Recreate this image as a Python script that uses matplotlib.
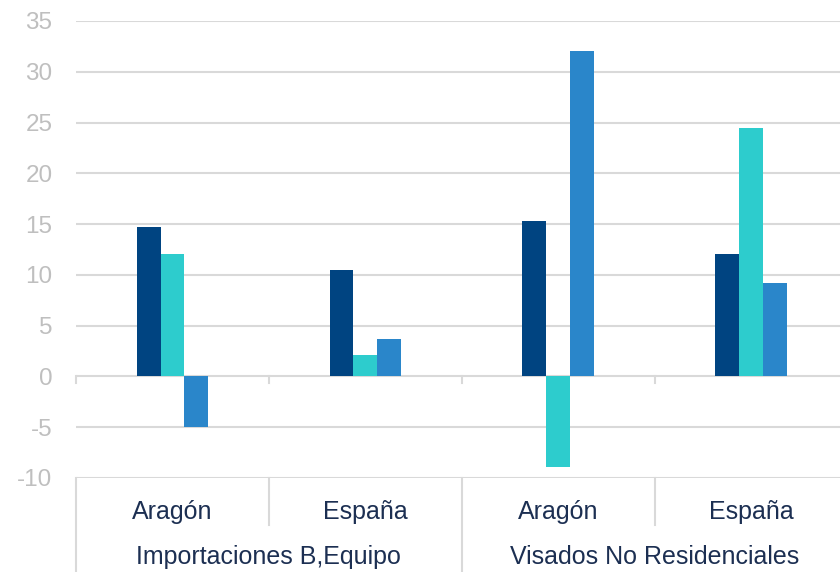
import matplotlib
matplotlib.use("Agg")
import matplotlib.pyplot as plt
import numpy as np

plt.rcParams['font.family'] = ['Liberation Sans', 'DejaVu Sans']

subcats = ["Aragón", "España", "Aragón", "España"]
groups = ["Importaciones B,Equipo", "Visados No Residenciales"]
series_a = [14.7, 10.5, 15.3, 12.1]
series_b = [12.1, 2.1, -8.9, 24.5]
series_c = [-5.0, 3.7, 32.0, 9.2]
yticks = [-10, -5, 0, 5, 10, 15, 20, 25, 30, 35]

colors = ["#004481", "#2DCCCD", "#2A86CA"]
grid_c = "#D9D9D9"
text_c = "#1C2F52"
tick_c = "#BFBFBF"

W, H = 840, 572
fig = plt.figure(figsize=(W / 100, H / 100), dpi=100)
ax = fig.add_axes([76 / W, 1 - 478 / H, (W - 76) / W, (478 - 21) / H])

x = np.arange(len(subcats))
bw = 0.124
for i, (vals, c) in enumerate(zip([series_a, series_b, series_c], colors)):
    ax.bar(x + (i - 1) * bw, vals, width=bw, color=c, zorder=3, linewidth=0)

ax.set_ylim(-10, 35)
ax.set_xlim(-0.5, 3.46)
ax.set_yticks(yticks)
ax.set_yticklabels([str(v) for v in yticks], fontsize=17.5, color=tick_c)
ax.tick_params(axis='y', length=0, pad=17)
ax.set_xticks([])
for v in yticks:
    ax.axhline(v, color=grid_c, lw=1.5, zorder=1)
for s in ax.spines.values():
    s.set_visible(False)

trans = ax.get_xaxis_transform()
# small ticks on the zero line
for b in [-0.5, 0.5, 1.5, 2.5]:
    ax.plot([b, b], [0, -0.6], color=grid_c, lw=1.5, zorder=2, clip_on=False)

def ypix(py):
    return (478 - py) / (478 - 21)

for b, bottom in [(-0.5, 572), (0.5, 525), (1.5, 572), (2.5, 525)]:
    ax.plot([b, b], [0, ypix(bottom)], transform=trans, color=grid_c, lw=1.5, clip_on=False)

for xi, lab in zip(x, subcats):
    ax.text(xi, ypix(512), lab, transform=trans, ha='center', va='center',
            fontsize=18, color=text_c)
for gi, g in enumerate(groups):
    ax.text(2 * gi + 0.5, ypix(557), g, transform=trans, ha='center', va='center',
            fontsize=18, color=text_c)

fig.savefig("out.png", dpi=100)
